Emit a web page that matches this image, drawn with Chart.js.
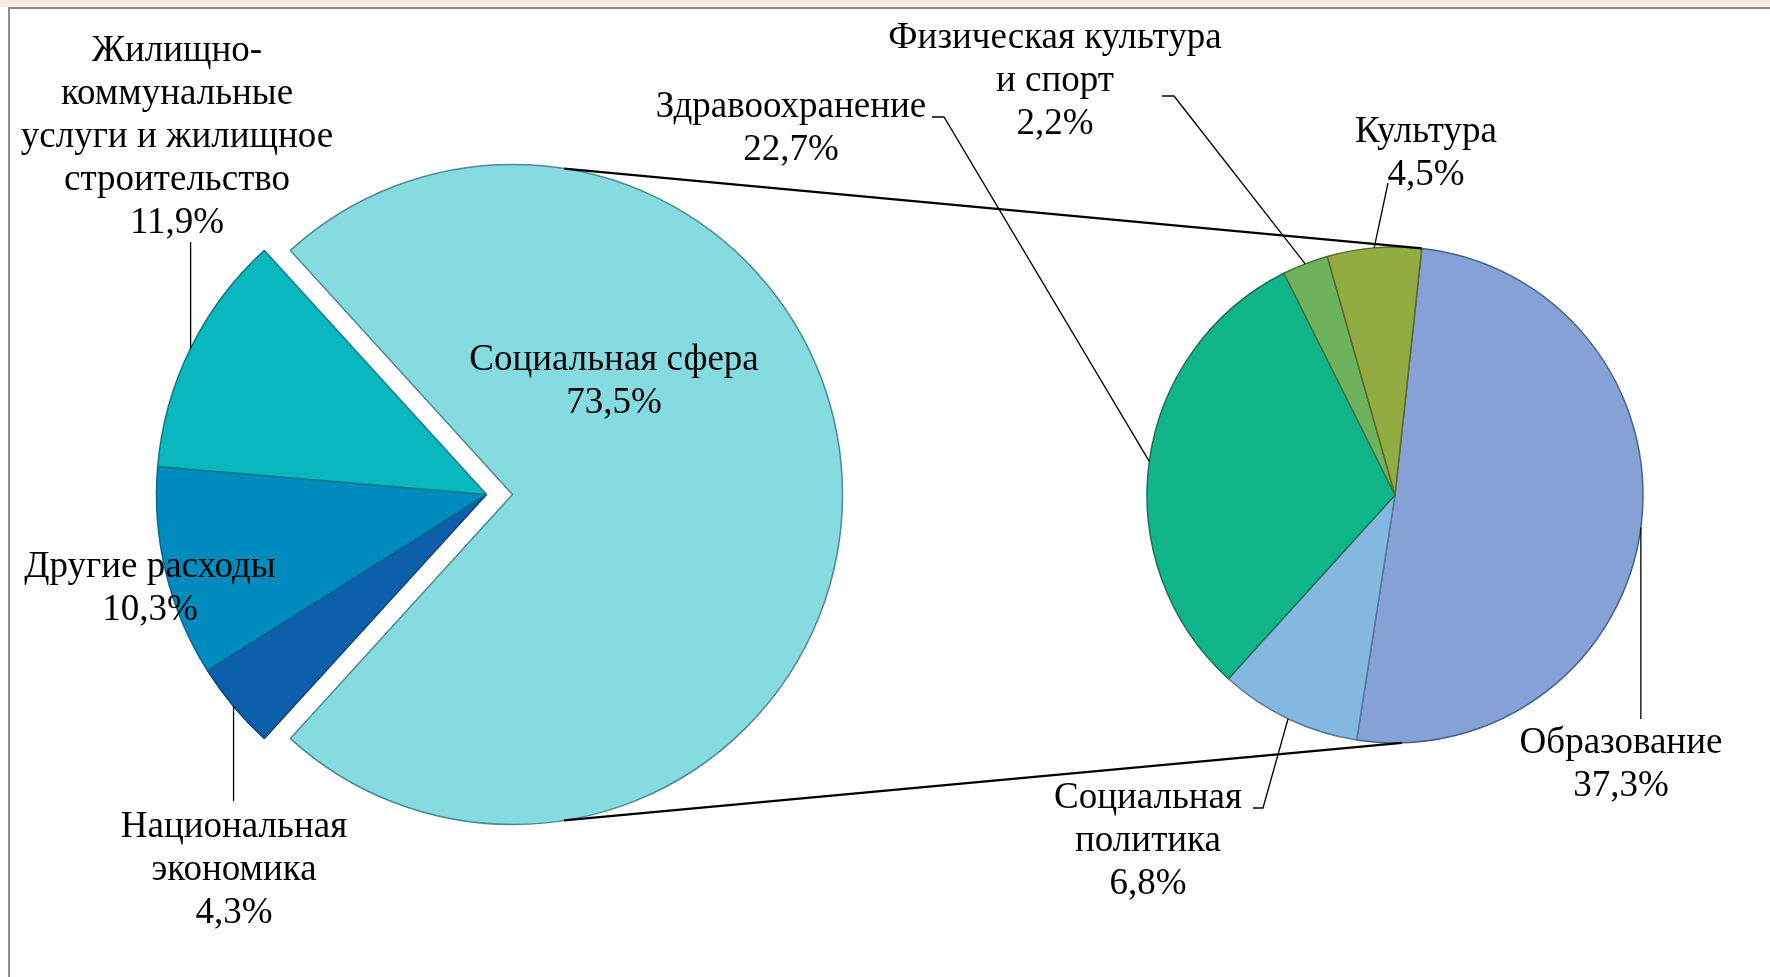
<!DOCTYPE html>
<html lang="ru">
<head>
<meta charset="utf-8">
<title>Структура расходов бюджета</title>
<script src="https://cdn.jsdelivr.net/npm/chart.js@4.4.1/dist/chart.umd.min.js"></script>
<style>
  html, body { margin: 0; padding: 0; }
  body {
    width: 1770px; height: 977px; position: relative; overflow: hidden;
    background: linear-gradient(#efeae2 0, #f5f2ec 7px, #fff 7px);
  }
  .frame {
    position: absolute; left: 8px; top: 7px; width: 1770px; height: 1000px;
    border-left: 2px solid #8c8c8c; border-top: 2px solid #8c8c8c; background: #fff;
  }
  canvas { position: absolute; left: 0; top: 0; }
</style>
</head>
<body>
<div class="frame"></div>
<canvas id="mainPie" width="1770" height="977"></canvas>
<canvas id="socialPie" width="1770" height="977"></canvas>
<script>
// Budget split (left pie)
const mainLabels = [
    ["Социальная сфера"],
    ["Национальная", "экономика"],
    ["Другие расходы"],
    ["Жилищно-", "коммунальные", "услуги и жилищное", "строительство"]
];
const mainValues = [73.5, 4.3, 10.3, 11.9];
const mainColors = ["#86dbe1", "#0c5fab", "#008bbf", "#09b7be"];
const mainBorders = ["#4a8a90", "#0a4379", "#0b6690", "#0b7c84"];

// Social sphere breakdown (right pie), % of the whole budget
const socialLabels = [
    ["Образование"],
    ["Социальная", "политика"],
    ["Здравоохранение"],
    ["Физическая культура", "и спорт"],
    ["Культура"]
];
const socialValues = [37.3, 6.8, 22.7, 2.2, 4.5];
const socialColors = ["#86a1d5", "#84b8e0", "#10b68a", "#6db35b", "#93ac42"];
const socialBorders = ["#45608a", "#557a96", "#1d6e55", "#456e3a", "#5a6a2a"];

const FONT = '37px "Liberation Serif", "Times New Roman", serif';
const LINE_H = 43;
const DEG = Math.PI / 180;

// label spots: x = text centre, y = first baseline, leader = points after the arc mid point
// (a null x means "same x as the arc point")
const mainSpots = [
    { x: 614, y: 370 },
    { x: 234, y: 837, leader: [[null, 801]] },
    { x: 150, y: 577 },
    { x: 177, y: 61, leader: [[null, 242]] }
];
const socialSpots = [
    { x: 1621, y: 753, leader: [[null, 719]] },
    { x: 1148, y: 808, leader: [[1263, 808], [1253, 808]] },
    { x: 791, y: 117, leader: [[944, 117], [932, 117]] },
    { x: 1055, y: 48, leader: [[1174, 96], [1162, 96]] },
    { x: 1426, y: 142, leader: [[1388, 183]] }
];

function fmtPct(v) {
    return v.toFixed(1).replace(".", ",") + "%";
}

// Pull one slice out along its mid angle without growing it
const explodePlugin = {
    id: "explode",
    afterDatasetsUpdate(chart, args, opts) {
        if (opts.index == null) return;
        const arc = chart.getDatasetMeta(0).data[opts.index];
        const mid = (arc.startAngle + arc.endAngle) / 2;
        arc.x += Math.cos(mid) * opts.distance;
        arc.y += Math.sin(mid) * opts.distance;
    }
};

// Labels with leader lines
const calloutPlugin = {
    id: "callouts",
    afterDraw(chart, args, opts) {
        const ctx = chart.ctx;
        const meta = chart.getDatasetMeta(0);
        const values = chart.data.datasets[0].data;
        ctx.save();
        ctx.strokeStyle = "#000";
        ctx.lineWidth = 1.3;
        meta.data.forEach((arc, i) => {
            const spot = opts.spots[i];
            if (!spot) return;
            const mid = (arc.startAngle + arc.endAngle) / 2;
            if (spot.leader) {
                const ax = arc.x + Math.cos(mid) * arc.outerRadius;
                const ay = arc.y + Math.sin(mid) * arc.outerRadius;
                ctx.beginPath();
                ctx.moveTo(ax, ay);
                spot.leader.forEach(p => ctx.lineTo(p[0] == null ? ax : p[0], p[1]));
                ctx.stroke();
            }
            const lines = chart.data.labels[i].concat([fmtPct(values[i])]);
            ctx.font = FONT;
            ctx.fillStyle = "#000";
            ctx.textAlign = "center";
            ctx.textBaseline = "alphabetic";
            lines.forEach((t, k) => ctx.fillText(t, spot.x, spot.y + k * LINE_H));
        });
        ctx.restore();
    }
};

// Series lines from the exploded slice to the second pie
const connectorPlugin = {
    id: "connectors",
    afterDatasetsDraw(chart, args, opts) {
        const src = mainChart.getDatasetMeta(0).data[0];
        const dst = chart.getDatasetMeta(0).data[0];
        const pt = (arc, a) => [arc.x + Math.cos(a) * arc.outerRadius, arc.y + Math.sin(a) * arc.outerRadius];
        const ctx = chart.ctx;
        const pairs = [
            [pt(src, -opts.leftAngle * DEG), pt(dst, dst.startAngle)],
            [pt(src, opts.leftAngle * DEG), pt(dst, opts.bottomAngle * DEG)]
        ];
        ctx.save();
        ctx.strokeStyle = "#000";
        ctx.lineWidth = 2.2;
        pairs.forEach(([a, b]) => {
            ctx.beginPath();
            ctx.moveTo(a[0], a[1]);
            ctx.lineTo(b[0], b[1]);
            ctx.stroke();
        });
        ctx.restore();
    }
};

const mainChart = new Chart(document.getElementById("mainPie"), {
    type: "pie",
    data: {
        labels: mainLabels,
        datasets: [{
            data: mainValues,
            backgroundColor: mainColors,
            borderColor: mainBorders,
            borderWidth: 1.5
        }]
    },
    options: {
        responsive: false,
        animation: false,
        events: [],
        radius: 330,
        rotation: -(mainValues[0] / mainValues.reduce((a, b) => a + b, 0)) * 180 + 90,
        layout: { padding: { left: 0, right: 797, top: 12, bottom: 0 } },
        plugins: {
            legend: { display: false },
            tooltip: { enabled: false },
            explode: { index: 0, distance: 26 },
            callouts: { spots: mainSpots }
        }
    },
    plugins: [explodePlugin, calloutPlugin]
});

const socialChart = new Chart(document.getElementById("socialPie"), {
    type: "pie",
    data: {
        labels: socialLabels,
        datasets: [{
            data: socialValues,
            backgroundColor: socialColors,
            borderColor: socialBorders,
            borderWidth: 1.5
        }]
    },
    options: {
        responsive: false,
        animation: false,
        events: [],
        radius: 248,
        rotation: 6.2,
        layout: { padding: { left: 1020, right: 0, top: 13, bottom: 0 } },
        plugins: {
            legend: { display: false },
            tooltip: { enabled: false },
            callouts: { spots: socialSpots },
            connectors: { leftAngle: 81, bottomAngle: 88.4 }
        }
    },
    plugins: [connectorPlugin, calloutPlugin]
});
</script>
</body>
</html>
